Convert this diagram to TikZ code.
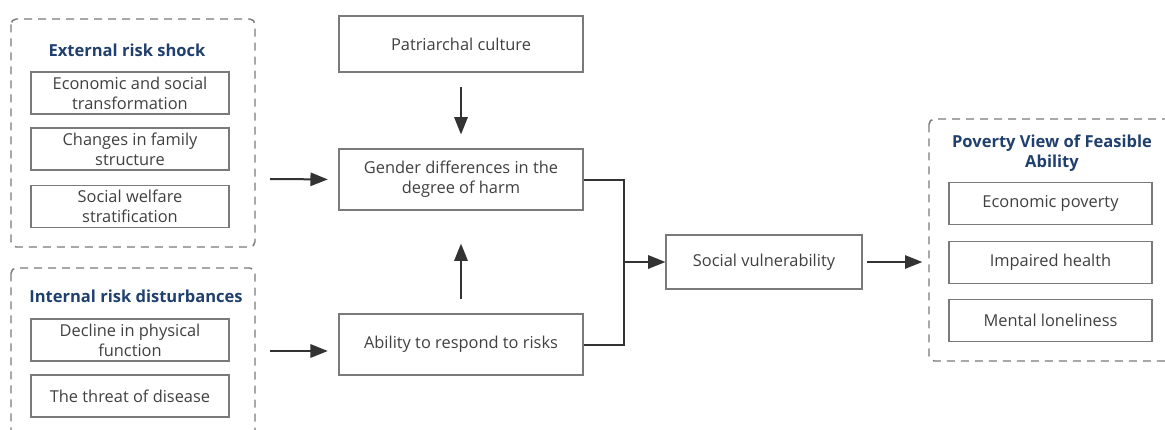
\documentclass[tikz,border=0pt]{standalone}
\usepackage{fontspec}
\setmainfont{Open Sans}
\usetikzlibrary{arrows.meta}
\definecolor{boxgray}{HTML}{7A7A7A}
\definecolor{txtgray}{HTML}{404040}
\definecolor{titleblue}{HTML}{1F3F6E}
\definecolor{arrgray}{HTML}{333333}
\tikzset{
  frame/.style={draw=boxgray, line width=1.1pt, dash pattern=on 6pt off 4.5pt, rounded corners=4pt},
  title/.style={font=\fontsize{12.4}{15}\selectfont\bfseries, text=titleblue, align=center},
  smallbox/.style={draw=boxgray, line width=0.8pt, minimum width=148.5pt, minimum height=31.5pt, inner sep=1pt,
    align=center, text=txtgray, font=\fontsize{12.3}{15}\selectfont},
  midbox/.style={smallbox, minimum width=183pt},
  arr/.style={draw=arrgray, line width=1.5pt, -{Triangle[length=13pt,width=10pt]}},
  link/.style={draw=arrgray, line width=1.5pt}
}
\begin{document}
\begin{tikzpicture}[x=0.75pt,y=-0.75pt]
\useasboundingbox (0,0) rectangle (1165,429);
\coordinate (E1) at (270,179);
\coordinate (E2) at (270,351);
\coordinate (J) at (624,262);
\coordinate (P) at (929,262);
\draw [frame] (11,19) rectangle (255,247);
\draw [frame] (11,268) rectangle (255,445);
\draw [frame] (929,119) rectangle (1185,361);
\node [title] (ext) at (127,50) {External risk shock};
\node [smallbox] (econ) at (130,93) {Economic and social\\transformation};
\node [smallbox] (family) at (130,149) {Changes in family\\structure};
\node [smallbox] (welfare) at (130,206.5) {Social welfare\\stratification};
\node [title] (int) at (136,296) {Internal risk disturbances};
\node [smallbox] (decline) at (130,340) {Decline in physical\\function};
\node [smallbox] (disease) at (130,396) {The threat of disease};
\node [midbox, minimum height=42pt] (patr) at (461,44) {Patriarchal culture};
\node [midbox, minimum height=45.75pt] (gender) at (461,179.5) {Gender differences in the\\degree of harm};
\node [midbox, minimum height=45.75pt] (ability) at (461,344.5) {Ability to respond to risks};
\node [smallbox, minimum width=147pt, minimum height=40.5pt] (vuln) at (764,262) {Social vulnerability};
\node [title] (pov) at (1052,153) {Poverty View of Feasible\\Ability};
\node [smallbox, minimum width=152.25pt] (money) at (1050.5,203.5) {Economic poverty};
\node [smallbox, minimum width=152.25pt] (health) at (1050.5,262.5) {Impaired health};
\node [smallbox, minimum width=152.25pt] (lonely) at (1050.5,320.5) {Mental loneliness};
\draw [arr, shorten >=8pt] (E1) -- (gender.west);
\draw [arr, shorten >=8pt] (E2) -- (E2 -| ability.west);
\draw [arr, shorten <=11pt, shorten >=10.5pt] (patr.south) -- (gender.north);
\draw [arr, shorten <=11pt, shorten >=24.75pt] (ability.north) -- (gender.south);
\draw [link] (gender.east) -| (J);
\draw [link] (ability.east) -| (J);
\draw [arr] (J) -- (vuln.west);
\draw [arr, shorten <=3.5pt, shorten >=5pt] (vuln.east) -- (P);
\end{tikzpicture}
\end{document}
